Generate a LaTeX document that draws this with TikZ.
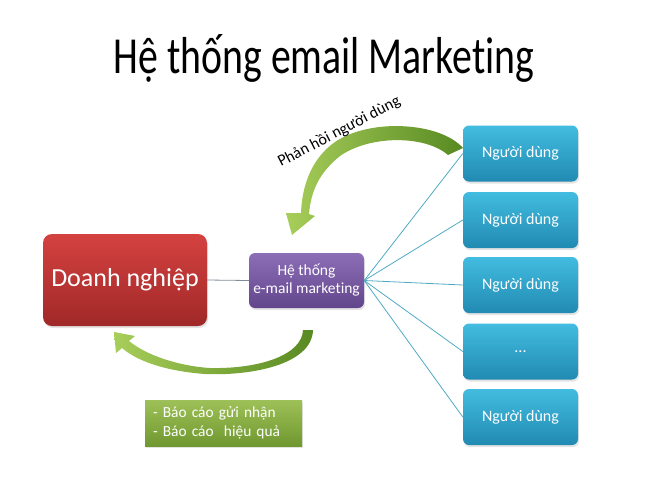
\documentclass[tikz,border=0pt]{standalone}
\usepackage{fontspec}
\setmainfont[Ligatures=NoCommon]{Carlito}
\usetikzlibrary{shadows}

\definecolor{firmTop}{RGB}{212,66,64}
\definecolor{firmBot}{RGB}{160,40,40}
\definecolor{sysTop}{RGB}{140,110,182}
\definecolor{sysBot}{RGB}{98,70,140}
\definecolor{userTop}{RGB}{66,188,224}
\definecolor{userBot}{RGB}{33,138,178}
\definecolor{reportTop}{RGB}{158,192,88}
\definecolor{reportBot}{RGB}{112,152,48}
\definecolor{arrowLight}{RGB}{168,206,90}
\definecolor{arrowDark}{RGB}{88,138,34}
\definecolor{linkTeal}{RGB}{80,170,196}
\definecolor{linkGray}{RGB}{130,140,150}

\tikzset{
  box/.style={rounded corners=6pt, text=white, align=center, inner sep=0pt,
    drop shadow={opacity=0.22, shadow xshift=1pt, shadow yshift=-2pt}},
  firmbox/.style={box, rounded corners=9pt, minimum width=164pt, minimum height=92pt,
    top color=firmTop, bottom color=firmBot, font=\fontsize{26}{30}\selectfont},
  sysbox/.style={box, minimum width=115pt, minimum height=55pt,
    top color=sysTop, bottom color=sysBot, font=\fontsize{15.5}{18}\selectfont},
  userbox/.style={box, minimum width=115pt, minimum height=56pt,
    top color=userTop, bottom color=userBot, font=\fontsize{16}{19}\selectfont},
  reportbox/.style={box, rounded corners=0pt, minimum width=157pt, minimum height=46pt,
    text width=141pt, inner xsep=8pt, align=left,
    top color=reportTop, bottom color=reportBot, font=\fontsize{15.4}{19}\selectfont},
  link/.style={draw=linkTeal, line width=0.8pt},
  swoosh/.style={left color=arrowLight, right color=arrowDark, draw=none}
}

\begin{document}
\begin{tikzpicture}[x=1pt, y=-1pt]
\useasboundingbox (0,0) rectangle (650,488);
\node[font=\fontsize{52}{60}\selectfont, anchor=base] (title) at (324,73) {\scalebox{0.765}[1]{Hệ thống email Marketing}};

\node[firmbox] (firm) at (125,280) {Doanh nghiệp};
\node[sysbox] (sys) at (306.5,280.5) {Hệ thống\\e-mail marketing};
\node[userbox] (u1) at (520.5,153.5) {Người dùng};
\node[userbox] (u2) at (520.5,220) {Người dùng};
\node[userbox] (u3) at (520.5,285) {Người dùng};
\node[userbox] (u4) at (520.5,351.5) {...};
\node[userbox] (u5) at (520.5,417) {Người dùng};
\node[reportbox] (report) at (223.5,423) {- Báo cáo gửi nhận\\- Báo cáo~ hiệu quả};

\draw[draw=linkGray, line width=0.8pt] (firm.east) -- (sys.west);
\foreach \u in {u1,u2,u3,u4,u5}
  \draw[link] (sys.east) -- (\u.west);

% feedback arrow, users -> system
\shade[swoosh] (463,148) .. controls (440,122) and (370,118) .. (335,142)
  .. controls (312,158) and (302,185) .. (301,213)
  -- (286,213) -- (292,235) -- (315,216) -- (309,214)
  .. controls (311,190) and (320,172) .. (340,156)
  .. controls (370,135) and (425,135) .. (448,155) -- cycle;
\node[rotate=27.5, anchor=base west, inner sep=0pt, font=\fontsize{16}{19}\selectfont] (fbtext) at (281,167) {Phản hồi người dùng};

% report arrow, system -> firm
\shade[swoosh] (313,330) .. controls (312,365) and (250,376) .. (205,374)
  .. controls (165,371) and (137,361) .. (122,348)
  -- (116,353) -- (114,332) -- (135,336) -- (129,341)
  .. controls (146,355) and (178,366) .. (210,368)
  .. controls (260,369) and (302,355) .. (303,330) -- cycle;
\end{tikzpicture}
\end{document}
